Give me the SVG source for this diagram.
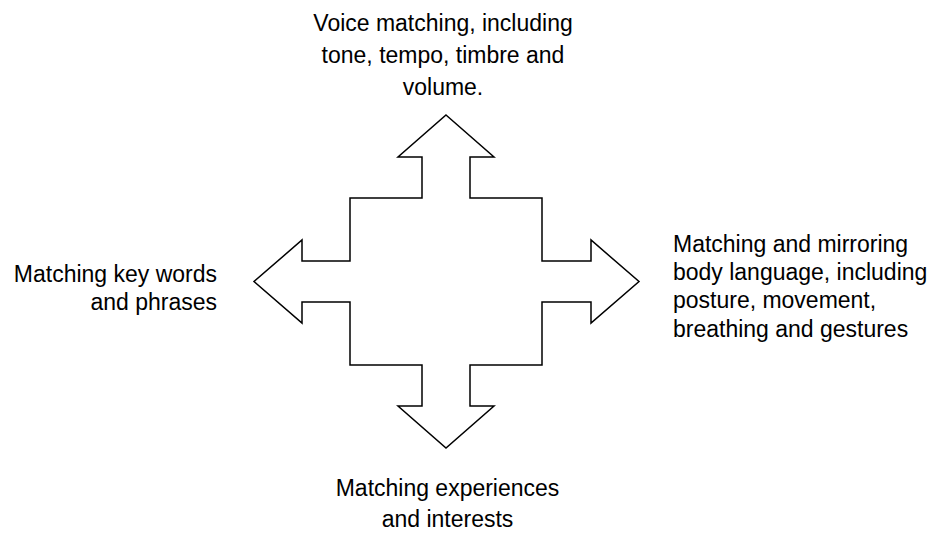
<svg xmlns="http://www.w3.org/2000/svg" width="934" height="533" viewBox="0 0 934 533">
<style>
.lbl{font-family:"Liberation Sans",Arial,sans-serif;font-size:23px;fill:#000}
.m{text-anchor:middle}
.e{text-anchor:end}
.shape{fill:#fff;stroke:#000;stroke-width:1.5;stroke-linejoin:miter}
</style>
<rect width="934" height="533" fill="#fff"/>
<g id="connectors"></g>
<g id="cross">
<polygon class="shape" points="446,115 494,157 470,157 470,198 542,198 542,261 591,261 591,240 639,281.5 591,323 591,302 542,302 542,365 470,365 470,406 494,406 446,448 398,406 422,406 422,365 350,365 350,302 302,302 302,323 254,281.5 302,240 302,261 350,261 350,198 422,198 422,157 398,157"/>
</g>
<g id="top">
<text class="lbl m" transform="translate(443,30.5) scale(1,1.08)">Voice matching, including</text>
<text class="lbl m" transform="translate(443,63) scale(1,1.08)">tone, tempo, timbre and</text>
<text class="lbl m" transform="translate(443,95) scale(1,1.08)">volume.</text>
</g>
<g id="left">
<text class="lbl e" transform="translate(217,281.5) scale(1,1.08)">Matching key words</text>
<text class="lbl e" transform="translate(217,310) scale(1,1.08)">and phrases</text>
</g>
<g id="right">
<text class="lbl" transform="translate(673,251.5) scale(1,1.08)">Matching and mirroring</text>
<text class="lbl" transform="translate(673,280) scale(1,1.08)">body language, including</text>
<text class="lbl" transform="translate(673,308) scale(1,1.08)">posture, movement,</text>
<text class="lbl" transform="translate(673,336.5) scale(1,1.08)">breathing and gestures</text>
</g>
<g id="bottom">
<text class="lbl m" transform="translate(447.5,495.5) scale(1,1.08)">Matching experiences</text>
<text class="lbl m" transform="translate(447.5,527) scale(1,1.08)">and interests</text>
</g>
</svg>
